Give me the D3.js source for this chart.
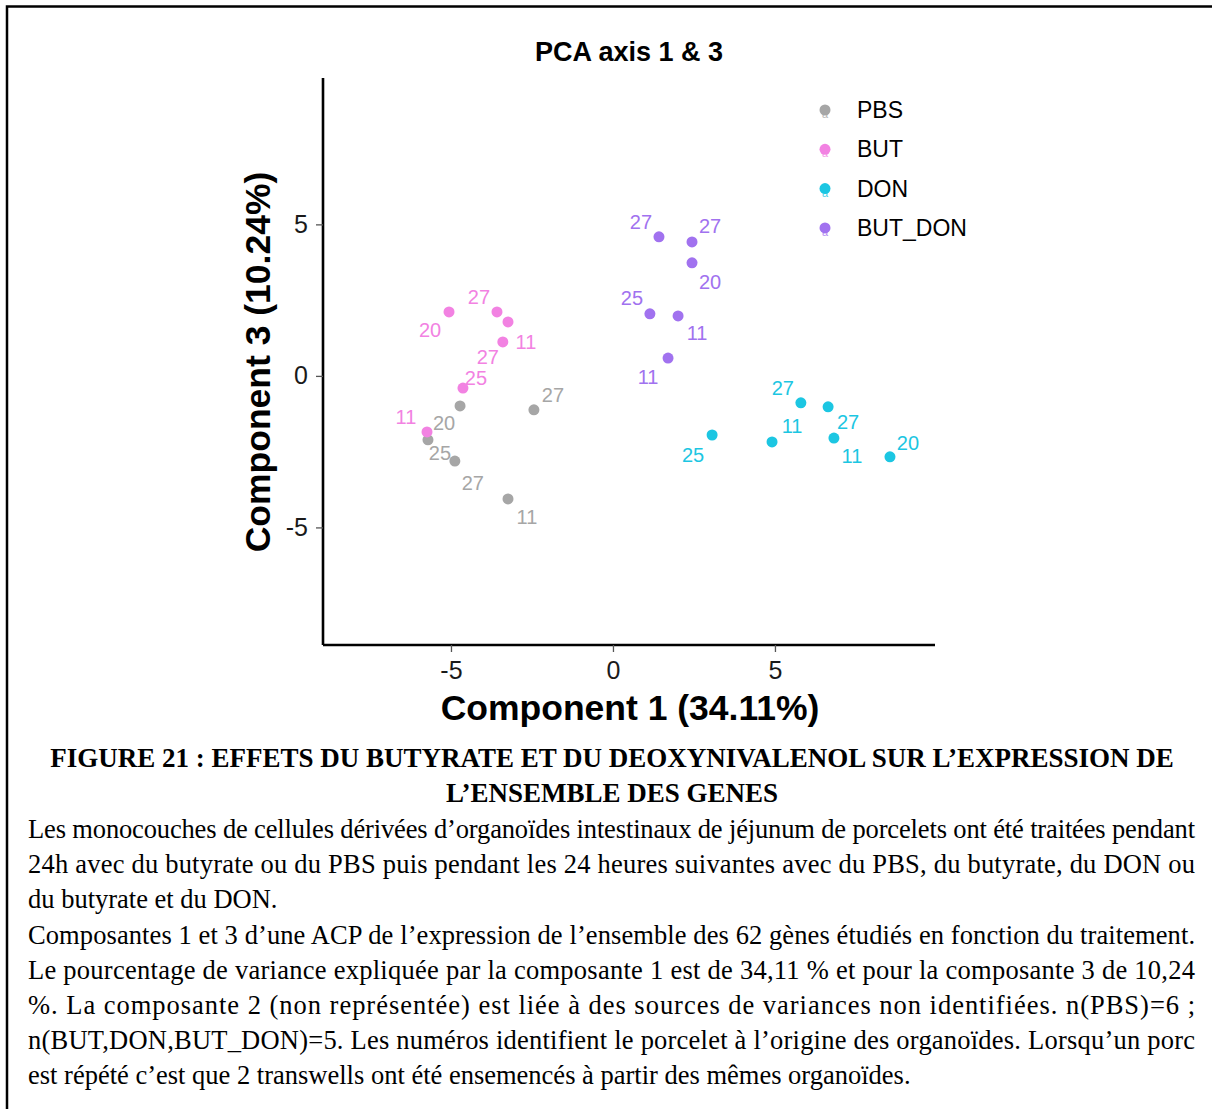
<!DOCTYPE html>
<html>
<head>
<meta charset="utf-8">
<script src="https://cdn.jsdelivr.net/npm/d3@7"></script>
<style>
body { margin: 0; background: #fff; }
</style>
</head>
<body>
<svg class="pca-chart"></svg>
<script>
// groups, in legend order
var groups = ["PBS", "BUT", "DON", "BUT_DON"];
var groupColors = ["#a6a6a6", "#f282e2", "#1cc6e2", "#a172ef"];

// component 1 / component 3 scores
var pbsX = [-4.72, -2.44, -5.71, -4.88, -3.24];
var pbsY = [-0.99, -1.12, -2.11, -2.81, -4.06];
var pbsPig = ["20", "27", "25", "27", "11"];

var butX = [-5.06, -3.58, -3.24, -3.40, -4.63, -5.74];
var butY = [2.11, 2.11, 1.78, 1.12, -0.40, -1.85];
var butPig = ["20", "27", "11", "27", "25", "11"];

var donX = [5.80, 6.64, 3.06, 4.91, 6.82, 8.55];
var donY = [-0.89, -1.02, -1.95, -2.18, -2.05, -2.67];
var donPig = ["27", "27", "25", "11", "11", "20"];

var butDonX = [1.42, 2.44, 2.44, 1.14, 2.01, 1.70];
var butDonY = [4.59, 4.42, 3.73, 2.05, 1.98, 0.59];
var butDonPig = ["27", "27", "20", "25", "11", "11"];

var xTicks = [-5, 0, 5];
var yTicks = [-5, 0, 5];

// where the repelled labels sit, relative to their point (px)
var pbsNudge = [[-16, 17], [19, -15], [12, 13], [18, 22], [19, 18]];
var butNudge = [[-19, 18], [-18, -15], [18, 20], [-15, 15], [13, -10], [-21, -15]];
var donNudge = [[-18, -15], [20, 15], [-19, 20], [20, -16], [18, 18], [18, -14]];
var butDonNudge = [[-18, -15], [18, -16], [18, 19], [-18, -16], [19, 17], [-20, 19]];

var captionTitle = [
	"FIGURE 21 : EFFETS DU BUTYRATE ET DU DEOXYNIVALENOL SUR L\u2019EXPRESSION DE",
	"L\u2019ENSEMBLE DES GENES"
];
var captionLines = [
	["Les monocouches de cellules dérivées d\u2019organoïdes intestinaux de jéjunum de porcelets ont été traitées pendant", true],
	["24h avec du butyrate ou du PBS puis pendant les 24 heures suivantes avec du PBS, du butyrate, du DON ou", true],
	["du butyrate et du DON.", false],
	["Composantes 1 et 3 d\u2019une ACP de l\u2019expression de l\u2019ensemble des 62 gènes étudiés en fonction du traitement.", true],
	["Le pourcentage de variance expliquée par la composante 1 est de 34,11 % et pour la composante 3 de 10,24", true],
	["%. La composante 2 (non représentée) est liée à des sources de variances non identifiées. n(PBS)=6 ;", true],
	["n(BUT,DON,BUT_DON)=5. Les numéros identifient le porcelet à l\u2019origine des organoïdes. Lorsqu\u2019un porc", true],
	["est répété c\u2019est que 2 transwells ont été ensemencés à partir des mêmes organoïdes.", false]
];

function buildPoints() {
	var xs = [pbsX, butX, donX, butDonX];
	var ys = [pbsY, butY, donY, butDonY];
	var pigs = [pbsPig, butPig, donPig, butDonPig];
	var nudges = [pbsNudge, butNudge, donNudge, butDonNudge];
	var points = [];
	for (var g = 0; g < groups.length; g++) {
		for (var i = 0; i < xs[g].length; i++) {
			points.push({
				group: groups[g],
				x: xs[g][i],
				y: ys[g][i],
				pig: pigs[g][i],
				dx: nudges[g][i][0],
				dy: nudges[g][i][1]
			});
		}
	}
	return points;
}

function drawChart(points) {
	var svgWidth = 1212, svgHeight = 1109;
	var sans = "'Liberation Sans', Arial, sans-serif";
	var serif = "'Liberation Serif', 'Times New Roman', serif";

	var svg = d3.select(".pca-chart")
		.attr("width", svgWidth)
		.attr("height", svgHeight);

	svg.append("rect")
		.attr("width", svgWidth)
		.attr("height", svgHeight)
		.attr("fill", "#fff");

	// frame of the page (top and left edges only)
	svg.append("path")
		.attr("d", "M7," + svgHeight + "V6.5H" + svgWidth)
		.attr("fill", "none")
		.attr("stroke", "#000")
		.attr("stroke-width", 2.5);

	var x = d3.scaleLinear()
		.domain([-8.95, 9.94])
		.range([323, 935]);

	var y = d3.scaleLinear()
		.domain([-8.88, 9.83])
		.range([645, 78]);

	var color = d3.scaleOrdinal()
		.domain(groups)
		.range(groupColors);

	var xAxis = svg.append("g")
		.attr("transform", "translate(0,645)")
		.call(d3.axisBottom(x).tickValues(xTicks).tickSize(7).tickPadding(9).tickFormat(function(d) { return String(d); }));

	var yAxis = svg.append("g")
		.attr("transform", "translate(323,0)")
		.call(d3.axisLeft(y).tickValues(yTicks).tickSize(7).tickPadding(8).tickFormat(function(d) { return String(d); }));

	[xAxis, yAxis].forEach(function(a) {
		a.select(".domain")
			.attr("stroke", "#000")
			.attr("stroke-width", 2.6);
		a.selectAll(".tick line")
			.attr("stroke", "#555")
			.attr("stroke-width", 1.3);
		a.selectAll(".tick text")
			.attr("fill", "#1a1a1a")
			.style("font-family", sans)
			.style("font-size", "25px");
	});
	// strip the outer ticks d3 puts on the domain path
	xAxis.select(".domain").attr("d", "M323,0H935");
	yAxis.select(".domain").attr("d", "M0,78V645");

	svg.append("text")
		.attr("x", 629)
		.attr("y", 52)
		.attr("text-anchor", "middle")
		.attr("dominant-baseline", "central")
		.style("font-family", sans)
		.style("font-size", "27px")
		.style("font-weight", "bold")
		.text("PCA axis 1 & 3");

	svg.append("text")
		.attr("x", 630)
		.attr("y", 708)
		.attr("text-anchor", "middle")
		.attr("dominant-baseline", "central")
		.style("font-family", sans)
		.style("font-size", "35.5px")
		.style("font-weight", "bold")
		.text("Component 1 (34.11%)");

	svg.append("text")
		.attr("transform", "translate(258,362) rotate(-90)")
		.attr("text-anchor", "middle")
		.attr("dominant-baseline", "central")
		.style("font-family", sans)
		.style("font-size", "35.5px")
		.style("font-weight", "bold")
		.text("Component 3 (10.24%)");

	var g = svg.append("g");

	g.selectAll(".dot")
		.data(points)
		.enter().append("circle")
		.attr("class", "dot")
		.attr("cx", function(d) { return x(d.x); })
		.attr("cy", function(d) { return y(d.y); })
		.attr("r", 5.5)
		.attr("fill", function(d) { return color(d.group); });

	g.selectAll(".pig")
		.data(points)
		.enter().append("text")
		.attr("class", "pig")
		.attr("x", function(d) { return x(d.x) + d.dx; })
		.attr("y", function(d) { return y(d.y) + d.dy; })
		.attr("text-anchor", "middle")
		.attr("dominant-baseline", "central")
		.attr("fill", function(d) { return color(d.group); })
		.style("font-family", sans)
		.style("font-size", "20px")
		.text(function(d) { return d.pig; });

	// legend
	var legend = svg.append("g")
		.attr("transform", "translate(825,110)");

	var key = legend.selectAll(".key")
		.data(groups)
		.enter().append("g")
		.attr("class", "key")
		.attr("transform", function(d, i) { return "translate(0," + (i * 39.3) + ")"; });

	key.append("text")
		.attr("y", 4)
		.attr("text-anchor", "middle")
		.attr("dominant-baseline", "central")
		.attr("fill", function(d) { return color(d); })
		.attr("opacity", 0.8)
		.style("font-family", sans)
		.style("font-size", "11px")
		.text("a");

	key.append("circle")
		.attr("r", 5.5)
		.attr("fill", function(d) { return color(d); });

	key.append("text")
		.attr("x", 32)
		.attr("dominant-baseline", "central")
		.style("font-family", sans)
		.style("font-size", "23px")
		.attr("fill", "#000")
		.text(function(d) { return d; });

	// caption
	svg.selectAll(".cap-title")
		.data(captionTitle)
		.enter().append("text")
		.attr("class", "cap-title")
		.attr("x", 612)
		.attr("y", function(d, i) { return 767 + i * 35; })
		.attr("text-anchor", "middle")
		.style("font-family", serif)
		.style("font-size", "27px")
		.style("font-weight", "bold")
		.text(function(d) { return d; });

	svg.selectAll(".cap-line")
		.data(captionLines)
		.enter().append("text")
		.attr("class", "cap-line")
		.attr("x", 28)
		.attr("y", function(d, i) { return 838 + i * 35.2; })
		.attr("textLength", function(d) { return d[1] ? 1167 : null; })
		.attr("lengthAdjust", "spacing")
		.style("font-family", serif)
		.style("font-size", "26.5px")
		.attr("fill", "#000")
		.text(function(d) { return d[0]; });
}

drawChart(buildPoints());
</script>
</body>
</html>
